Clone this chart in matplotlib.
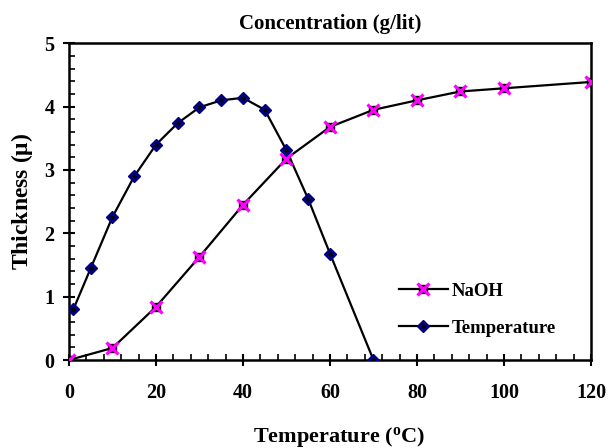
import numpy as np
import matplotlib
matplotlib.use("Agg")
import matplotlib.pyplot as plt
from matplotlib.ticker import MultipleLocator

# Data
naoh_x = [0, 10, 20, 30, 40, 50, 60, 70, 80, 90, 100, 120]
naoh_y = [0.0, 0.19, 0.84, 1.63, 2.45, 3.18, 3.68, 3.95, 4.10, 4.24, 4.29, 4.39]

temp_x = [1, 5, 10, 15, 20, 25, 30, 35, 40, 45, 50, 55, 60, 70]
temp_y = [0.80, 1.45, 2.26, 2.90, 3.40, 3.74, 3.99, 4.10, 4.14, 3.95, 3.31, 2.54, 1.68, 0.0]

plt.rcParams['font.family'] = ['Liberation Serif', 'DejaVu Serif']
plt.rcParams['font.weight'] = 'bold'
plt.rcParams['mathtext.fontset'] = 'custom'
plt.rcParams['mathtext.rm'] = 'Liberation Serif:bold'
plt.rcParams['mathtext.bf'] = 'Liberation Serif:bold'

fig = plt.figure(figsize=(6.09, 4.48), dpi=100)
ax = fig.add_axes([0.1133, 0.1964, 0.8571, 0.7069])

# NaOH: black line, black square with magenta cross
ln_n, = ax.plot(naoh_x, naoh_y, color='black', lw=1.6, zorder=2)
sq_n, = ax.plot(naoh_x, naoh_y, ls='none', marker='s', ms=6, mfc='black',
                mec='black', zorder=3)
x_n, = ax.plot(naoh_x, naoh_y, ls='none', marker='x', ms=8, mew=2.3,
               color='#ff00ff', zorder=4)

# Temperature: black line, navy diamond with small black centre
ln_t, = ax.plot(temp_x, temp_y, color='black', lw=1.6, zorder=2)
d_t, = ax.plot(temp_x, temp_y, ls='none', marker='D', ms=6, mfc='#000080',
               mec='#000080', zorder=3)
c_t, = ax.plot(temp_x, temp_y, ls='none', marker='o', ms=2, mfc='black',
               mec='black', zorder=4)

ax.set_xlim(0, 120)
ax.set_ylim(0, 5)
ax.xaxis.set_major_locator(MultipleLocator(20))
ax.xaxis.set_minor_locator(MultipleLocator(4))
ax.yaxis.set_major_locator(MultipleLocator(1))
ax.yaxis.set_minor_locator(MultipleLocator(0.2))

for s in ax.spines.values():
    s.set_linewidth(1.8)
ax.tick_params(which='major', direction='inout', length=9, width=1.5,
               labelsize=14.5)
ax.tick_params(axis='x', which='major', pad=12)
ax.tick_params(axis='y', which='major', pad=6)
ax.tick_params(which='minor', direction='in', length=4, width=1.2)

ax.set_title('Concentration (g/lit)', fontsize=15, fontweight='bold', pad=10)
ax.set_xlabel(r'Temperature ($\mathregular{^o}$C)', fontsize=16,
              fontweight='bold', labelpad=12)
ax.xaxis.set_label_coords(0.517, -0.205)
ax.set_ylabel(r'Thickness ($\mathregular{\mu}$)', fontsize=17,
              fontweight='bold', labelpad=7)

leg = ax.legend([(ln_n, sq_n, x_n), (ln_t, d_t, c_t)], ['NaOH', 'Temperature'],
                loc='upper left', bbox_to_anchor=(0.60, 0.297), frameon=False,
                fontsize=13.5, handlelength=2.6, handletextpad=0.2,
                labelspacing=1.05)

fig.savefig('out.png', dpi=100)
